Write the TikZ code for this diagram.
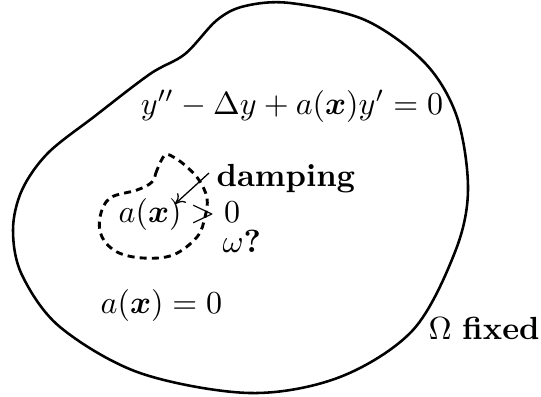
\documentclass[tikz,border=0pt]{standalone}
\usepackage{amsmath}
\usepackage{bm}
\usetikzlibrary{arrows.meta}
\begin{document}
\begin{tikzpicture}[x=0.3125pt,y=-0.3125pt,
  boundary/.style={line width=0.8pt},
  subregion/.style={line width=0.9pt,dash pattern=on 2.2pt off 1.6pt},
  pointer/.style={line width=0.4pt,-{To[length=3pt,width=4pt]}},
  lbl/.style={inner sep=0pt,anchor=base}]
\useasboundingbox (0,0) rectangle (541,396);
\draw[boundary] plot[smooth cycle,tension=0.55] coordinates {
 (290,3) (365,20) (425,63) (457,117) (468,190)
 (455,252) (413,330) (340,377) (250,393)
 (140,373) (60,327) (22,275) (13,230) (22,190)
 (48,153) (95,116) (150,74) (185,54) (217,20) (245,6)};
\draw[subregion] plot[smooth cycle,tension=0.6] coordinates {
 (165,155) (157,170) (152,182) (137,190) (110,198) (100,217) (102,237)
 (117,252) (143,258) (173,255) (197,237) (205,217) (207,198) (199,180)
 (187,167) (175,158)};
\node[lbl] (eq) at (292,114) {$y''-\Delta y+a(\bm{x})y'=0$};
\node[lbl,anchor=base west] (damp) at (216,186) {\textbf{damping}};
\node[lbl,anchor=base west] (pos) at (118,222) {$a(\bm{x})>0$};
\node[lbl,anchor=base west] (om) at (222,252) {$\omega$\textbf{?}};
\node[lbl,anchor=base west] (zero) at (100,313) {$a(\bm{x})=0$};
\node[lbl,anchor=base west] (fix) at (428,339) {$\Omega$ \textbf{fixed}};
\coordinate (tail) at (209,173);
\coordinate (tip) at (175,204);
\draw[pointer] (tail) -- (tip);
\end{tikzpicture}
\end{document}
